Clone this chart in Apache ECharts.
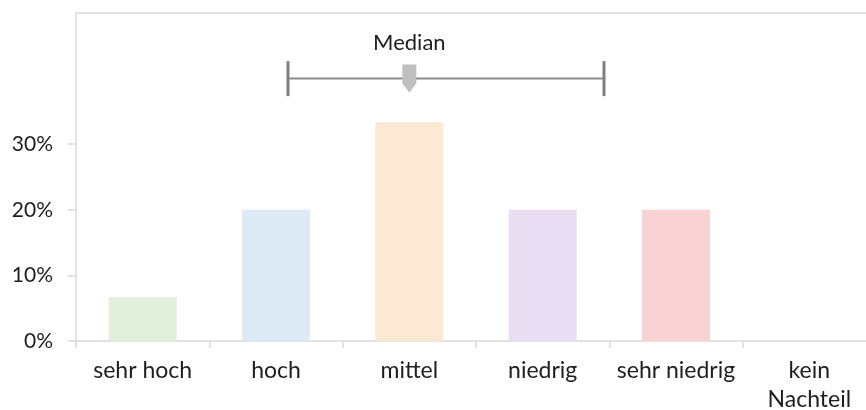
<!DOCTYPE html>
<html>
<head>
<meta charset="utf-8">
<script src="https://cdn.jsdelivr.net/npm/echarts@6/dist/echarts.min.js"></script>
<style>
  html, body { margin: 0; padding: 0; background: #fff; }
  #chart { width: 866px; height: 410px; }
</style>
</head>
<body>
<div id="chart"></div>
<script>
// Antwortkategorien und Anteile (in %)
const categories = ['sehr hoch', 'hoch', 'mittel', 'niedrig', 'sehr niedrig', 'kein\nNachteil'];
const shares = [6.67, 20, 33.33, 20, 20, 0];
const barColors = ['#E2EFDA', '#DDEBF7', '#FBE9D3', '#E8DDF3', '#F9D3D4', '#E7E6E6'];
const yTickValues = [0, 10, 20, 30];

// Spannweite und Median auf der Kategorienskala (0 = erste Kategorie)
const rangeLow = 1.09;
const rangeHigh = 3.46;
const medianPos = 2.0;
const rangeLevel = 40;        // Höhe der Klammer in %
const medianLabel = 'Median';

const FONT = 'Lato';
const chart = echarts.init(document.getElementById('chart'));

chart.setOption({
  animation: false,
  backgroundColor: '#ffffff',
  grid: { left: 76, top: 13, width: 800, height: 328, outerBoundsMode: 'none', containLabel: false },
  xAxis: [
    {
      type: 'category',
      data: categories,
      boundaryGap: true,
      axisLine: { show: true, onZero: false, lineStyle: { color: '#D9D9D9', width: 1.5 } },
      axisTick: { show: true, length: 7, alignWithLabel: false, lineStyle: { color: '#D9D9D9', width: 1.5 } },
      axisLabel: {
        interval: 0, margin: 15, color: '#1e1e1e', fontFamily: FONT, fontSize: 23,
        lineHeight: 29, verticalAlign: 'top'
      },
      splitLine: { show: false }
    },
    {
      type: 'value', min: -0.5, max: 5.5, show: false
    }
  ],
  yAxis: {
    type: 'value',
    min: 0, max: 50, interval: 10,
    axisLine: { show: true, onZero: false, lineStyle: { color: '#D9D9D9', width: 1.5 } },
    axisTick: { show: true, length: 8, customValues: yTickValues, lineStyle: { color: '#D9D9D9', width: 1.5 } },
    axisLabel: {
      customValues: yTickValues,
      formatter: '{value}%', margin: 23, color: '#1e1e1e', fontFamily: FONT, fontSize: 21
    },
    splitLine: { show: false }
  },
  series: [
    {
      type: 'bar',
      xAxisIndex: 0,
      data: shares.map((v, i) => ({ value: v, itemStyle: { color: barColors[i] } })),
      barWidth: '51%'
    },
    {
      // obere Rahmenlinie der Zeichenfläche
      type: 'custom',
      xAxisIndex: 1,
      silent: true,
      data: [[0]],
      renderItem: function (params, api) {
        const cs = params.coordSys;
        return {
          type: 'line',
          shape: { x1: cs.x, y1: cs.y, x2: cs.x + cs.width, y2: cs.y },
          style: { stroke: '#D9D9D9', lineWidth: 1.5 }
        };
      }
    },
    {
      // Spannweite mit Median-Markierung
      type: 'custom',
      xAxisIndex: 1,
      silent: true,
      data: [[rangeLow, rangeHigh, medianPos, rangeLevel]],
      renderItem: function (params, api) {
        const p1 = api.coord([api.value(0), api.value(3)]);
        const p2 = api.coord([api.value(1), api.value(3)]);
        const pm = api.coord([api.value(2), api.value(3)]);
        const y = p1[1];
        const capH = 17.5;
        const mw = 7;
        return {
          type: 'group',
          children: [
            { type: 'line', shape: { x1: p1[0], y1: y, x2: p2[0], y2: y },
              style: { stroke: '#8C8C8C', lineWidth: 2 } },
            { type: 'line', shape: { x1: p1[0], y1: y - capH, x2: p1[0], y2: y + capH },
              style: { stroke: '#7F7F7F', lineWidth: 3 } },
            { type: 'line', shape: { x1: p2[0], y1: y - capH, x2: p2[0], y2: y + capH },
              style: { stroke: '#7F7F7F', lineWidth: 3 } },
            { type: 'polygon',
              shape: { points: [
                [pm[0] - mw, y - 14], [pm[0] + mw, y - 14], [pm[0] + mw, y + 5],
                [pm[0], y + 14], [pm[0] - mw, y + 5]
              ] },
              style: { fill: '#BFBFBF' } },
            { type: 'text',
              x: pm[0], y: y - 36,
              style: { text: medianLabel, fill: '#1e1e1e', font: '22px ' + FONT,
                       align: 'center', verticalAlign: 'middle' } }
          ]
        };
      }
    }
  ]
});
</script>
</body>
</html>
